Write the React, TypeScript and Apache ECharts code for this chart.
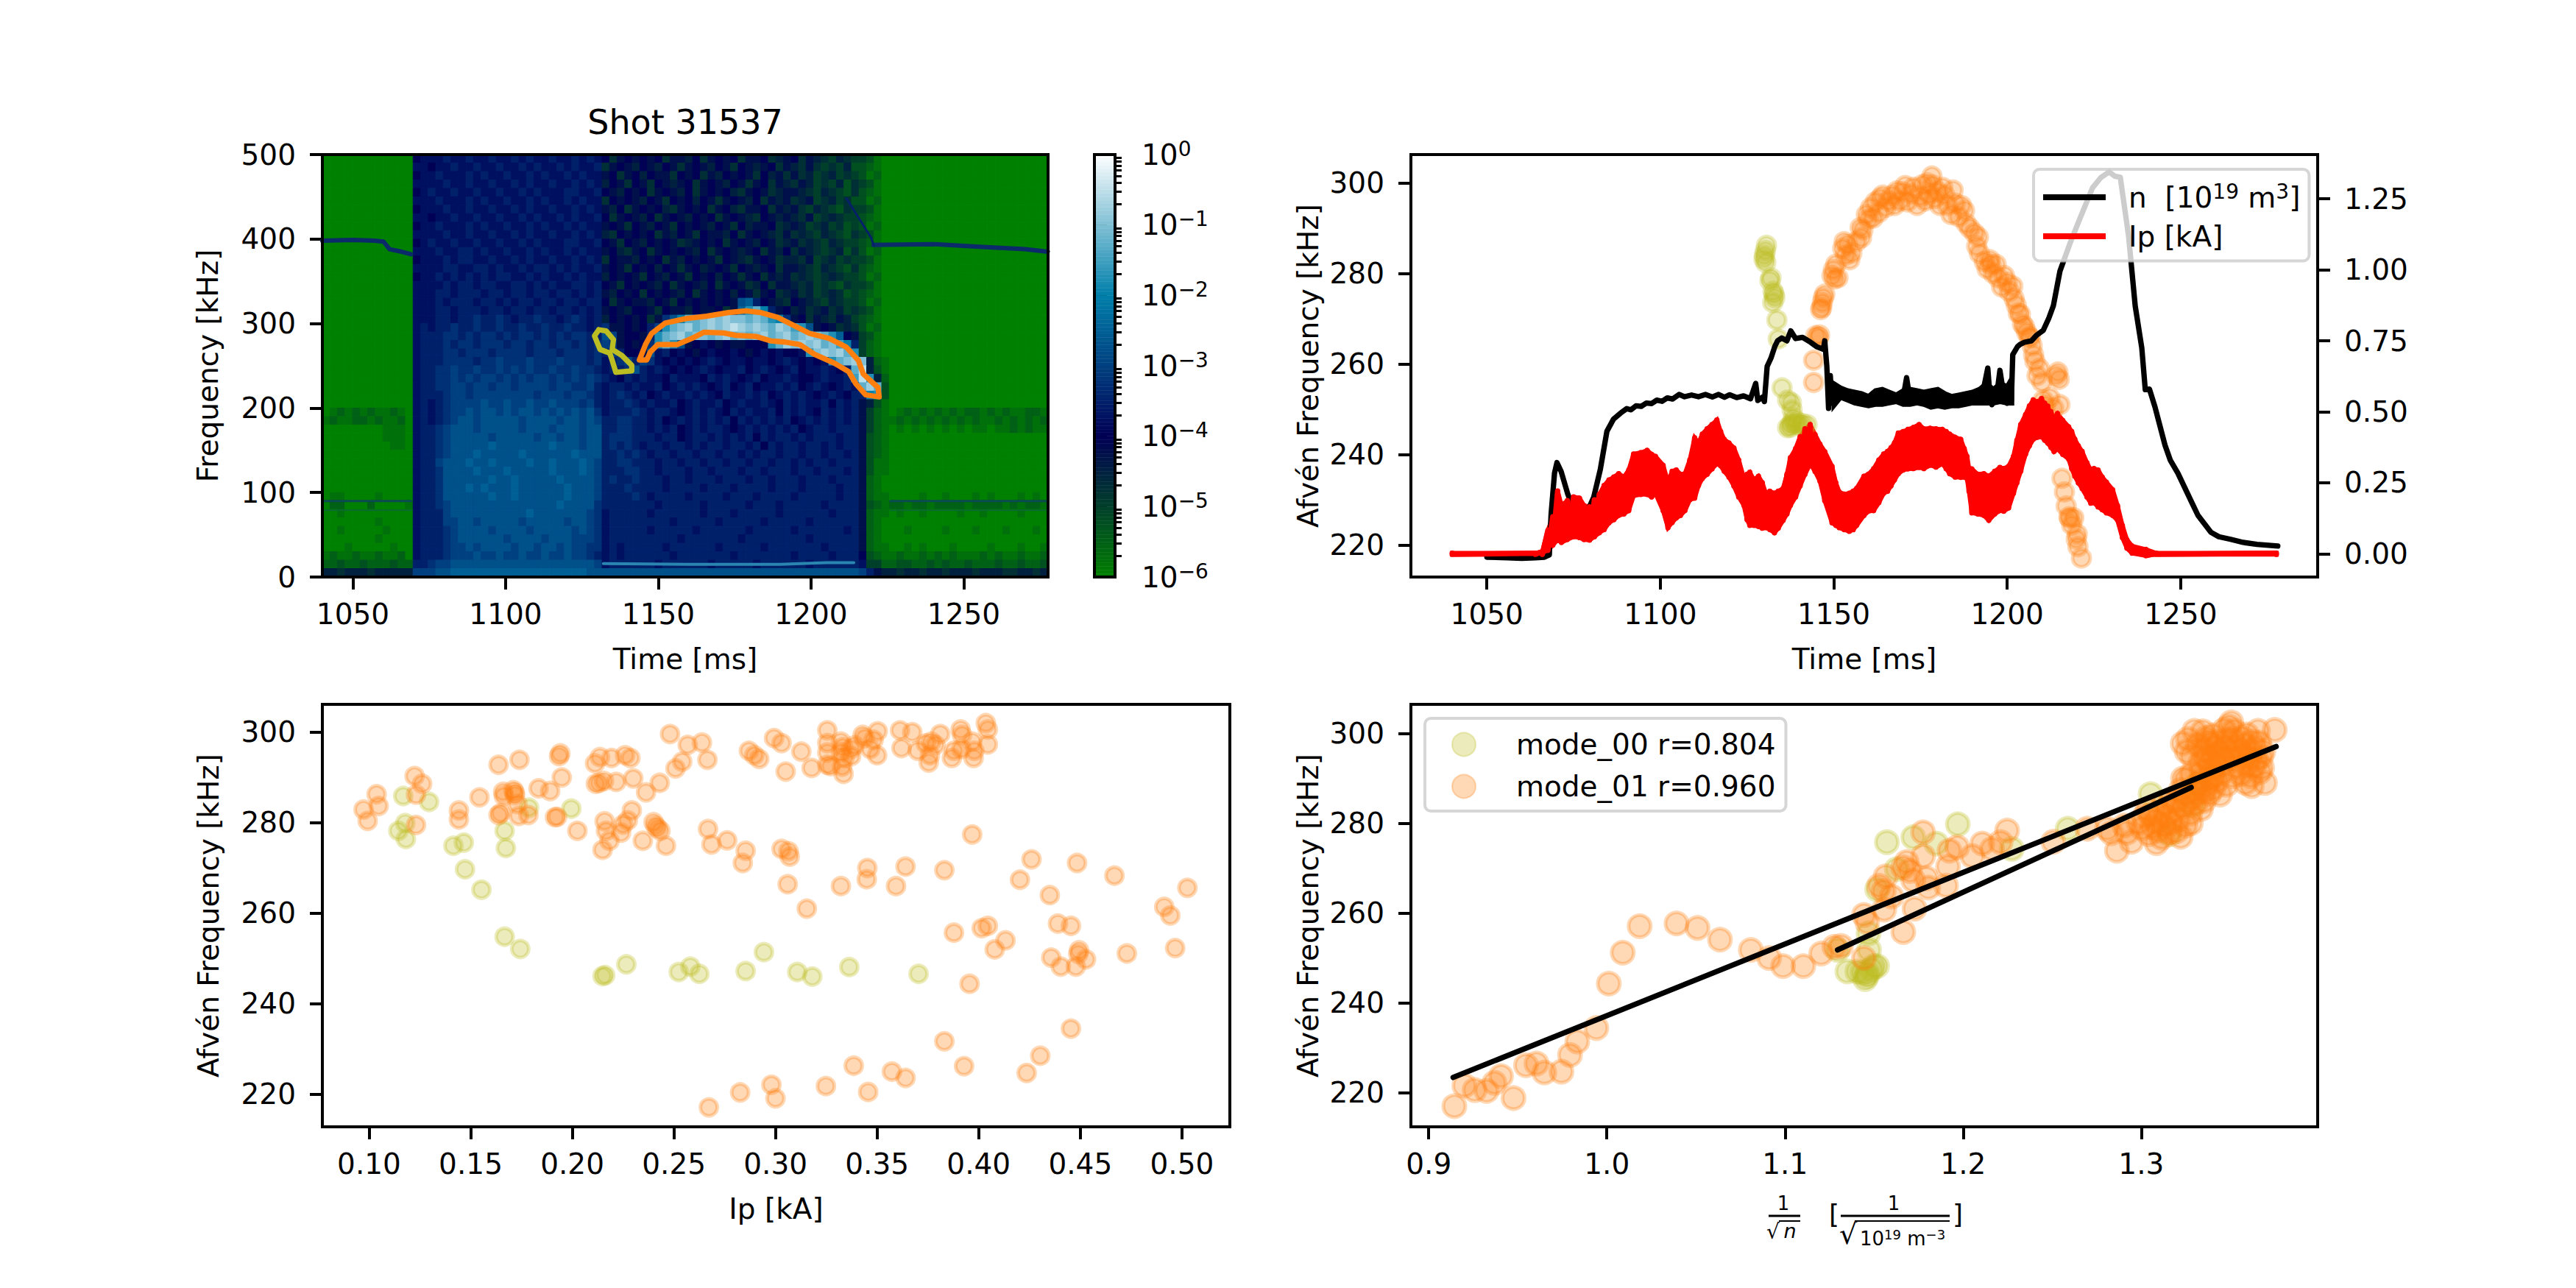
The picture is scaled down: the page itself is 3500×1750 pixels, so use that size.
import React, { useEffect, useRef } from 'react';
import * as echarts from 'echarts';

const specTimeTicks = [1050, 1100, 1150, 1200, 1250];
const specFreqTicks = [0, 100, 200, 300, 400, 500];
const afvenTicks = [220, 240, 260, 280, 300];
const densityTicks = [0, 0.25, 0.5, 0.75, 1, 1.25];
const ipTicks = [0.1, 0.15, 0.2, 0.25, 0.3, 0.35, 0.4, 0.45, 0.5];
const invDensityTicks = [0.9, 1.0, 1.1, 1.2, 1.3];
const colorbarExponents = [-6, -5, -4, -3, -2, -1, 0];
const colorbarMinor = [2, 3, 4, 5, 6, 7, 8, 9];

// spectrogram cells, top row first. a = 1e-6, each letter is +0.25 decade. spaces are only for counting
const specLetters = 'abcdefghijklmnopqrstuvwxy';
const specRows = [
  'aaaaa aaaaa aa ij jjkjj kjjkj jkjkj jkjjk jkj ifhih ihifh hgifh ihifh hifgh ifhgf egfe edba aaaaa aaaaa aaaaa aaaaa a',
  'aaaaa aaaaa aa jj ijjkj jkjjk jjkjk jjkjk jjk fhihg ihgih fhihg ihfih ghifh gfhfe fegd dcba aaaaa aaaaa aaaaa aaaaa a',
  'aaaaa aaaaa aa ij jkjjj kjkjj kjjkj kjjkj kjj hifhi gihhf ihifh gihih fighf hfgef gefe dbca aaaaa aaaaa aaaaa aaaaa a',
  'aaaaa aaaaa aa jj jjkjj kjjkj jkjkj jkjjk jkj gihfi hfihg hifhi hgihf hifhg fhgef egdf edba aaaaa aaaaa aaaaa aaaaa a',
  'aaaaa aaaaa aa ij kjjkj jkjjk jjkjk jjjkk jjk ihgih ifhih gifhi higfh ihfgh hgfeg fedf dcba aaaaa aaaaa aaaaa aaaaa a',
  'aaaaa aaaaa aa jj jkjjj kjkjj kjjkj kjjkj kjj fihih gihfi higih fhihg ifhgh fghef gefd dbca aaaaa aaaaa aaaaa aaaaa a',
  'aaaaa aaaaa aa ij jjkjj kjjkj jkjkj jkjjk jkj hgifh ihigf hihif higfh hifhg hfegf edfe edba aaaaa aaaaa aaaaa aaaaa a',
  'aaaaa aaaaa aa jj ijjkj jkjjk jjkjk jjkjk jjk ifhih gifhi hgihi fhihg fihgh gfhef gfee dcba aaaaa aaaaa aaaaa aaaaa a',
  'aaaaa aaaaa aa ij jkjjj kjkjj kjjkj kjjkj kjj hihfi hgihf ihihg ihfig hhifg hgefg efde dbca aaaaa aaaaa aaaaa aaaaa a',
  'aaaaa aaaaa aa jj jjkjj kjjkj jkjkj jkjjk jkj gfihi hifhg ihfih hgifh ihgfh fgfeg fedf edba aaaaa aaaaa aaaaa aaaaa a',
  'aaaaa aaaaa aa ij kjjkj jkjjk jjkjk jjjkk jjk ihfih gihih fghih ifhih gihfg hfgfe gfee dcba aaaaa aaaaa aaaaa aaaaa a',
  'aaaaa aaaaa aa jj jkjjk kjkjj kjjkj kjjkj kjj higfh ifhih ihgif hihgh ifhgi fhgfe fgdf dbca aaaaa aaaaa aaaaa aaaaa a',
  'aaaaa aaaaa aa ij jjkjk kjjkj jkjkj jkjjk jkj fihhg ihifh gihih fihgf hihfg gfhef gefe edba aaaaa aaaaa aaaaa aaaaa a',
  'aaaaa aaaaa aa jj jjkkj jkkjk jjkjk kjkjk jjk hihfi higih fhigh ihfih ghifh hgfeg fedf dcba aaaaa aaaaa aaaaa aaaaa a',
  'aaaaa aaaaa aa ij jkjkj kjkjk kjjkj kjjkj kjj gihih fihgi hfihi gihfh ifhgh fgfef gfee dbca aaaaa aaaaa aaaaa aaaaa a',
  'aaaaa aaaaa aa jj jjkjk kjkkj jkkjk jkjjk kjk ihfih ihgif hihgi fhihf gifhh gfgef edfe edba aaaaa aaaaa aaaaa aaaaa a',
  'aaaaa aaaaa aa jj jkkjk kkjkk jkkjk kjkkj kjk hgihi fihih gifhi higih fhifg hfgef gfde dcba aaaaa aaaaa aaaaa aaaaa a',
  'aaaaa aaaaa aa jj jkjkk kjkkj kjkkj kkjkk jkk ifhih hgihf ihihi hihno kihgf ihgfe gfee dbca aaaaa aaaaa aaaaa aaaaa a',
  'aaaaa aaaaa aa jj jkkjk kkjkk jkkjk kjkkj kjk hihgi ihfih hgihh ifhor tqkhi ghfgh fgef edba aaaaa aaaaa aaaaa aaaaa a',
  'aaaaa aaaaa aa jj jkkjk klkkl kjkkl kkjkl kjk gihih ifhln qttuv uvuut utrql hifhg fhge dcba aaaaa aaaaa aaaaa aaaaa a',
  'aaaaa aaaaa aa jk jkklk klkkl kklkk lkklk kjk lhhih ikmrt uvtuv uvwvu vutvu srnhi hfgf dbca aaaaa aaaaa aaaaa aaaaa a',
  'aaaaa aaaaa aa jk kkllk lkllk lkllk lklkl lkk nmhii hkrtu vtuut uvtut uvtuv tuvut roih edba aaaaa aaaaa aaaaa aaaaa a',
  'aaaaa aaaaa aa jk kklkl lklll kllkl lkllk lkl mlhih ilrtr nhiji hihhi iirtv uvuvt usqk ecba aaaaa aaaaa aaaaa aaaaa a',
  'aaaaa aaaaa aa jk kkllk lllkl lllkl llkll lkl kmkii hnjki jihij iijih ijiji ijruv uvtr ecba aaaaa aaaaa aaaaa aaaaa a',
  'aaaaa aaaaa aa jk kklll lkllm lllml llmll lkl jklmk mljij ijijk jijji jjijk jijij rtuv ugcb aaaaa aaaaa aaaaa aaaaa a',
  'aaaaa aaaaa aa jk kllml lmllm lmlml lmllm llk jkkln kjkji jijkj ijjki jkjij kijjk jikt wgdb aaaaa aaaaa aaaaa aaaaa a',
  'aaaaa aaaaa aa jk kllml mlmml mlmlm mlmlm lml kjikj kjjik jjjik jkjij kijjk jiijk jjks wrgc aaaaa aaaaa aaaaa aaaaa a',
  'aaaaa aaaaa aa jk kllmm lmmlm mlmmm mlmml lmk jkkjk jjkij kjkji jkijk ijjkj kijkj ijkj tvtd aaaaa aaaaa aaaaa aaaaa a',
  'aaaaa aaaaa aa jk kklmm lmmmm mmmml mmmlm mlk jklkj kijkj jkjkj ikjjk jkijk jkjij kjik kqrd aaaaa aaaaa aaaaa aaaaa a',
  'aaaaa aaaaa aa jk jklmm mmnmm nmmnm mnmmm lmk jkklk jkjjk ijkjj kijkj jkjik jkjjk ikjk hgdb aaaaa aaaaa aaaaa aaaaa a',
  'abcbc bcbbc ba jk jklmm nmnnm nmnnm nmnmn mnl jkkkl kjkkj ijkjk jikjk jjkik jkjik jkjk hecb abcbc bcbcb ccbcb cbbcc b',
  'bcbbc cbcbb ca jk jklmn nmnnn nnmnn nnmnn mnm kkllk kjkij kjkjk jkikj kjkjk ijkjk jkjk hecb bcbcb cbcbc bcbbc bcbcb c',
  'aaaaa aaabb ba jk klmnn nmnnn nnmnn nmnnn mnn kkllk kjkjk ijkjk kjijk jkjkj kijkk jkkk hecb ababa babab abbab bcbcb b',
  'aaaaa aaabb ba jk klmnn nnnmn nnnnm nnmnn mnn klllk kkjkk ijkkj kjkjk ikjkk jkjkk kjkk hdcb aaaaa aaaaa aaaaa aaaaa a',
  'aaaaa aaaab ba jk klmnn nnnon nnnnn nonnn mnn klklk jkkjk kjkjk kjkkj kikjk kjkkj kjkk hdcb aaaaa aaaaa aaaaa aaaaa a',
  'aaaaa aaaaa aa jk klmnn nonnn nnonn nnnno nnn kklkl kjkkj kkjkk jkkjk jkkjk kjkkj kkjk hdcb aaaaa aaaaa aaaaa aaaaa a',
  'aaaaa aaaaa aa jk kmnnn onnon nnnon nonnn onm kkllk kkjkk jkkjk kjkkj kkjkk jkjkk jkkk hdbb aaaaa aaaaa aaaaa aaaaa a',
  'aaaaa aaaaa aa jk klnnn nonnn onnnn nonnn onm kkkll kkjkk kjkkj kkkjk kjkkk jkkjk kkjk hdbb aaaaa aaaaa aaaaa aaaaa a',
  'aaaaa aaaaa aa jk klnnn nnnon nonnn nnonn nnm klkkl kkkjk kjkkk jkkkj kkjkk kjkkk jkkk hcba aaaaa aaaaa aaaaa aaaaa a',
  'aaaaa aaaaa aa jk klnnn ononn nonnn nnnon nnm kkklk kkkjk kkkjk kkjkk kkjkk kjkkk kjkk hcba aaaaa aaaaa aaaaa aaaaa a',
  'abbaa aabaa aa jk klnnn nnnon nonnn nnnon nnm kkkkl kjkkk kjkkk kjkkk jkkkk jkkkk kjkk hcbb aaaab aabaa ababa aabab a',
  'accaa acaaa ab jk klmnn nnnnn nnnnn nnonn nnl kkkkk kkjkk kkkjk kkkkj kkkjk kkkkj kkkk hdcb ccbcc bcccc bcccc bcbcc b',
  'aabaa aaaaa aa jk kkmnn nnnnn nnnon nnnnn nml jkkkk kjkkk kkkjk kkjkk kkkjk kkkkk jkkk hcbb abaab aaaab aabaa aabaa a',
  'aaaaa aabaa aa jk kkmmn nmnnn nnmnn nnnmn nml jkkkk kkkkj kkkkk jkkkk kjkkk kkjkk kkkk hcba aaaaa aaaaa aaaaa aaaaa a',
  'aabaa aaaba aa jk kklmn nnnmn nnnmn nnnnm nml jkkkk kjkkk kkjkk kkkkj kkkkk jkkkk kkjk hcba aabaa aabaa abaaa baaab a',
  'aaaaa aabaa aa jk kklmn nnnnn mnnnn mnnnm mml jkkkk kkkkk jkkkk kkkjk kkkkk kkjkk kkkk hcba aaaaa aaaaa aaaaa aaaaa a',
  'aaaba aaaab aa jk kklmm nmnnn nmnnm nnmnm mll jkjkk kkkjk kkkkk jkkkk kjkkk kkkkj kkkk hcbb aabab aaaba aaaba aabaa b',
  'bcbbc bbcbb ca jk kklmm mnmmn mmnmm nmmnm mlk jkjkk kkkkj kkkkk kkjkk kkkkk jkkkk jkkk idcb bcbbc bcbcb bbcbc bbcbb c',
  'ccdcc dcccd cc kk lmmnn nnnnn nnnnn nnnnn nnm jkkkk kkjkk kkkkj kkkkk jkkkk kkjkk kkkk jeec cddcc dcdcc dcccd ccdcc d',
  'ggfgg gfggg gg mm mnnoo ooooo ooooo ooooo onn nnnnn nnnnn nnnnn nnnnn nnnnn nnnnn nnnn mkhg gfggf ggfgg gfggg ffggf g',
];

// thin lines visible in the spectrogram [ms, kHz]
const lineAt400Before = [[1040, 398], [1050, 399], [1057, 398], [1060, 397], [1062, 388], [1066, 385], [1069, 382]];
const lineAt400After = [[1220.5, 393], [1240, 394], [1255, 391], [1270, 388], [1277.5, 385]];
const lineDiagonal = [[1211.6, 448], [1219.6, 402], [1220.5, 393]];
const lineAt90Before = [[1040, 90], [1069, 90]];
const lineAt90After = [[1226, 90], [1277.5, 90]];
const lineAt80Before = [[1040, 79], [1069, 79]];
const lineAt80After = [[1226, 79], [1277.5, 79]];
const lineAt15 = [[1132, 16], [1160, 15], [1190, 15], [1205, 17], [1214, 17]];

const mode00Contour = [
  [1130.5, 292.7], [1132.9, 291.2], [1135.3, 281], [1134.9, 269.4], [1138.1, 262.1], [1141.3, 250.5], [1141.3, 244.1],
  [1136.1, 242.3], [1134.9, 256.3], [1134.1, 265], [1130.9, 269.4], [1129.1, 285.4], [1130.5, 292.7],
];
const mode01Contour = [
  [1143.8, 256.9], [1145.8, 275.2], [1147.8, 288.3], [1152.2, 300.5], [1159, 305.8], [1165.8, 308.7], [1173, 313.1],
  [1178.6, 315.1], [1183.4, 313.1], [1189.1, 307.2], [1193.9, 298.5], [1199.5, 288.3], [1205.9, 282.5], [1211.5, 272.3],
  [1215.5, 256.3], [1217.1, 240.3], [1221.9, 224.3], [1222.3, 213.2], [1217.9, 215.6], [1214.7, 228.6], [1212.3, 243.2],
  [1207.5, 253.4], [1201.1, 263.6], [1196.3, 275.2], [1191.5, 278.1], [1186.7, 279.6], [1181.9, 284.8], [1175.4, 286],
  [1171.4, 288.9], [1165, 289.8], [1161, 282.5], [1156.2, 275.2], [1149.8, 275.2], [1147.4, 266.5], [1146.2, 256.9],
  [1143.8, 256.9],
];

// afven frequency vs time
const mode00ByTime = [
  [1130.6, 286.2], [1130.3, 285], [1130, 284], [1129.9, 283.2], [1130.4, 282.4], [1131.9, 279], [1131.6, 278.4], [1132.5, 276],
  [1133, 274.6], [1132.8, 275.4], [1132.4, 273.6], [1133.6, 269.7], [1134, 265.5], [1135.1, 254.7], [1136.7, 252], [1137.8, 251.4],
  [1138, 249.8], [1137.6, 246.6], [1139.1, 246.6], [1136.7, 245.9], [1138.4, 248], [1139.4, 247.2], [1140.4, 246.4], [1141, 246.8],
  [1142.3, 246.6], [1138.2, 247], [1137.4, 246],
];
const mode01ByTime = [
  [1144.2, 255.9], [1144.2, 260.8], [1144.8, 266.2], [1145.6, 265.8], [1145.9, 266.4], [1146.2, 272], [1146.5, 272.4], [1146.7, 273.5],
  [1147, 274.6], [1147.4, 275.4], [1149.5, 279.5], [1149.9, 280.8], [1150.6, 282], [1150.3, 278.8], [1151.2, 279], [1152.6, 285.5],
  [1153, 287], [1153.4, 284], [1154, 286.4], [1154.6, 283], [1155.2, 284.5], [1156.6, 287], [1157.6, 290.1], [1158, 287.9],
  [1158.4, 289.6], [1159.4, 293], [1160, 292], [1160.6, 294.5], [1161.3, 292.2], [1162, 295.8], [1163, 293.4], [1163.4, 296.6],
  [1164.1, 297.3], [1165, 294.6], [1165.8, 296], [1166.8, 297.2], [1167.5, 295], [1168.2, 298.2], [1169, 296], [1169.8, 298],
  [1170.6, 299.4], [1171.2, 295.8], [1172.4, 297.6], [1173, 299], [1174, 295], [1175, 297], [1175.6, 299.6], [1176.4, 296],
  [1177, 300], [1177.6, 297.5], [1178.3, 301.5], [1178.6, 299.5], [1179, 296.5], [1180, 298], [1180.6, 295], [1181.4, 299],
  [1182, 297.3], [1182.8, 295], [1183.8, 293], [1184.4, 298.4], [1185, 295.5], [1186, 292.5], [1186.8, 295], [1187.7, 293.9],
  [1188.2, 291], [1189.2, 290], [1190.6, 288.9], [1191.2, 286], [1192, 284.4], [1191.7, 288], [1193.4, 282.6], [1194.2, 281],
  [1195, 283], [1195.3, 282], [1196, 280], [1196.8, 282], [1197.4, 279], [1198.4, 277], [1199.2, 279.5], [1200, 278],
  [1200.6, 276], [1201.6, 277.2], [1202, 274.4], [1202.6, 273], [1203.2, 271.2], [1203.8, 271], [1204.4, 268.8], [1205, 268.2],
  [1205.6, 267], [1206.3, 266], [1206.7, 265.8], [1207.2, 264], [1207.6, 262], [1208, 260.6], [1208.6, 257.4], [1209.3, 259],
  [1210, 256], [1210.4, 252], [1211, 250.8], [1212.3, 252.5], [1213.4, 250.2], [1214.2, 257.4], [1214.6, 258.2], [1215, 256.6],
  [1215.2, 251], [1215.8, 234.7], [1216.5, 231.7], [1217, 228.6], [1217.8, 226.2], [1218, 225.9], [1218.6, 224.4], [1219.2, 226],
  [1219.9, 221.3], [1220.2, 222.4], [1220.4, 219.6], [1221.4, 217.1],
];

// density and plasma current traces, right axis
const nTimes = [
  1050, 1056, 1060, 1064, 1066.6, 1068, 1068.5, 1069.5, 1070.2, 1071.4, 1073.3, 1074.8, 1077, 1079, 1080.8, 1082.7, 1084.6, 1086.5,
  1088.5, 1090.3, 1091.5, 1093, 1094.5, 1096, 1097.5, 1099, 1100.5, 1102, 1103.5, 1105.4, 1107, 1109, 1111, 1113, 1115, 1116.8,
  1118.5, 1120, 1122, 1124, 1126, 1127.5, 1128.1, 1129.5, 1130, 1130.8, 1131.9, 1133, 1133.8, 1135, 1136.5, 1137.6, 1139, 1141,
  1143.3, 1145, 1147, 1147.4, 1148, 1148.5, 1149, 1149.5, 1150, 1151.5, 1153, 1154.6, 1156, 1157.5, 1159.4, 1161, 1162.5, 1164.1, 1165.5,
  1167, 1168.5, 1170, 1171, 1172, 1174.5, 1176, 1177.5, 1179, 1180.5, 1182, 1183.5, 1185, 1186.5, 1188, 1189.5, 1191, 1192.5,
  1194.4, 1195, 1195.6, 1197, 1197.9, 1199, 1200, 1201.2, 1201.6, 1203, 1203.8, 1205, 1207, 1208.5, 1210.4, 1212, 1213.3, 1215.2,
  1218, 1220.9, 1224.6, 1227, 1229.4, 1231, 1232.6, 1235, 1236.9, 1238.8, 1239.8, 1241, 1242.6, 1245.5, 1247, 1249.2, 1253, 1255,
  1258.7, 1261, 1264.4, 1268, 1272, 1278,
];
const nValues = [
  -0.012, -0.014, -0.016, -0.014, -0.012, -0.004, 0.137, 0.284, 0.321, 0.29, 0.211, 0.162, 0.15, 0.15, 0.199, 0.297, 0.431, 0.474,
  0.495, 0.511, 0.507, 0.521, 0.519, 0.531, 0.529, 0.541, 0.537, 0.549, 0.545, 0.561, 0.553, 0.559, 0.553, 0.561, 0.552, 0.561,
  0.551, 0.56, 0.55, 0.556, 0.546, 0.6, 0.54, 0.552, 0.536, 0.66, 0.689, 0.73, 0.75, 0.76, 0.75, 0.785, 0.758, 0.762,
  0.745, 0.73, 0.72, 0.75, 0.66, 0.512, 0.627, 0.53, 0.58, 0.57, 0.552, 0.56, 0.54, 0.552, 0.535, 0.55, 0.54, 0.552, 0.54,
  0.55, 0.542, 0.55, 0.62, 0.54, 0.54, 0.55, 0.54, 0.55, 0.54, 0.548, 0.54, 0.545, 0.535, 0.545, 0.54, 0.548, 0.54,
  0.654, 0.56, 0.525, 0.56, 0.646, 0.56, 0.53, 0.54, 0.701, 0.73, 0.738, 0.745, 0.75, 0.77, 0.787, 0.83, 0.873, 0.995,
  1.09, 1.179, 1.289, 1.325, 1.345, 1.33, 1.326, 1.118, 0.873, 0.725, 0.578, 0.58, 0.517, 0.382, 0.33, 0.284, 0.186, 0.135,
  0.076, 0.06, 0.051, 0.04, 0.033, 0.027,
];
// noisy stretch of the density trace, drawn as an envelope
const nBandTimes = [
  1150, 1152, 1154, 1156, 1158, 1160, 1162, 1164, 1166, 1168, 1170, 1172, 1174, 1176, 1178, 1180, 1182, 1184, 1186, 1188, 1190, 1192,
  1194, 1196, 1198, 1200, 1201.4,
];
const nBandUpper = [
  0.6, 0.585, 0.575, 0.57, 0.565, 0.555, 0.575, 0.58, 0.57, 0.56, 0.575, 0.58, 0.575, 0.57, 0.575, 0.58, 0.565, 0.555, 0.56, 0.565, 0.57, 0.58,
  0.6, 0.58, 0.6, 0.59, 0.62,
];
const nBandLower = [
  0.52, 0.55, 0.54, 0.53, 0.525, 0.52, 0.525, 0.525, 0.53, 0.535, 0.525, 0.525, 0.53, 0.525, 0.515, 0.52, 0.515, 0.52, 0.52, 0.525, 0.53, 0.53,
  0.53, 0.53, 0.535, 0.53, 0.53,
];
const ipTimes = [
  1040, 1064, 1066, 1067.6, 1069, 1070.4, 1071.5, 1073.2, 1075, 1076.7, 1078, 1079.6, 1081, 1082.4, 1083.8, 1085.2, 1086.6, 1088, 1089.5, 1090.9,
  1092.3, 1094.4, 1096.2, 1097.5, 1098.6, 1100.8, 1102.2, 1103.4, 1104.6, 1105.8, 1107.1, 1108.5, 1109.9, 1111, 1112.1, 1113.5, 1114.9, 1116.3,
  1117.4, 1118.4, 1119.8, 1121.2, 1122.6, 1124.1, 1125, 1125.8, 1127, 1128.3, 1129.4, 1130.4, 1131.6, 1132.9, 1134, 1135.4, 1136.5, 1137.5,
  1139, 1140.3, 1141.7, 1143.2, 1144.6, 1146, 1147.4, 1149.5, 1150.6, 1151.6, 1153, 1154.5, 1155.6, 1156.6, 1158.7, 1160, 1161.5, 1163, 1164.4,
  1165.5, 1166.5, 1167.5, 1168.6, 1170, 1171.4, 1173, 1174.6, 1176, 1177.8, 1179.5, 1181.3, 1182.4, 1183.4, 1185, 1186.6, 1187.6, 1188.4, 1189,
  1189.8, 1191.5, 1193.3, 1194.7, 1196.4, 1197.9, 1199, 1200.4, 1201.8, 1202.8, 1203.9, 1205.3, 1206.4, 1207.5, 1208.7, 1209.9, 1210.8, 1211.7,
  1212.6, 1213.5, 1214.5, 1216, 1217.7, 1218.6, 1219.5, 1220.5, 1221.6, 1223, 1224.1, 1225, 1226.2, 1227.4, 1228.6, 1230.4, 1231.8, 1233.2,
  1234.5, 1236, 1240, 1243, 1277.6,
];
const ipUpper = [
  0.002, 0.002, 0.008, 0.083, 0.13, 0.221, 0.17, 0.187, 0.2, 0.196, 0.17, 0.165, 0.19, 0.209, 0.24, 0.26, 0.27, 0.282, 0.27, 0.295,
  0.351, 0.356, 0.364, 0.35, 0.343, 0.312, 0.252, 0.29, 0.295, 0.28, 0.282, 0.33, 0.408, 0.39, 0.421, 0.44, 0.455, 0.471,
  0.43, 0.403, 0.39, 0.373, 0.33, 0.265, 0.28, 0.287, 0.26, 0.273, 0.25, 0.213, 0.22, 0.213, 0.22, 0.23, 0.28, 0.338,
  0.37, 0.412, 0.44, 0.455, 0.42, 0.386, 0.36, 0.308, 0.25, 0.217, 0.21, 0.213, 0.22, 0.23, 0.273, 0.28, 0.299, 0.33, 0.351,
  0.36, 0.373, 0.39, 0.425, 0.43, 0.438, 0.445, 0.455, 0.44, 0.442, 0.44, 0.438, 0.43, 0.421, 0.41, 0.403, 0.37, 0.343, 0.3,
  0.299, 0.28, 0.282, 0.273, 0.29, 0.304, 0.3, 0.308, 0.343, 0.4, 0.455, 0.49, 0.52, 0.542, 0.535, 0.546, 0.53, 0.52,
  0.5, 0.481, 0.494, 0.47, 0.447, 0.43, 0.403, 0.38, 0.36, 0.32, 0.295, 0.3, 0.295, 0.27, 0.252, 0.226, 0.17, 0.1,
  0.05, 0.027, 0.015, 0.002, 0.002,
];
const ipLower = [
  -0.002, -0.002, -0.002, 0.012, 0.03, 0.05, 0.04, 0.05, 0.06, 0.057, 0.05, 0.048, 0.06, 0.074, 0.085, 0.109, 0.12, 0.135, 0.14, 0.152,
  0.204, 0.209, 0.209, 0.2, 0.213, 0.152, 0.092, 0.11, 0.126, 0.135, 0.152, 0.19, 0.196, 0.24, 0.265, 0.28, 0.299, 0.317,
  0.31, 0.291, 0.27, 0.239, 0.2, 0.17, 0.12, 0.1, 0.1, 0.096, 0.09, 0.092, 0.085, 0.074, 0.09, 0.118, 0.14, 0.17,
  0.2, 0.239, 0.28, 0.317, 0.29, 0.256, 0.187, 0.109, 0.1, 0.092, 0.085, 0.079, 0.085, 0.1, 0.135, 0.15, 0.152, 0.18, 0.213,
  0.22, 0.239, 0.26, 0.282, 0.295, 0.299, 0.3, 0.304, 0.3, 0.312, 0.305, 0.317, 0.3, 0.282, 0.27, 0.269, 0.27, 0.265, 0.22,
  0.144, 0.14, 0.135, 0.118, 0.14, 0.152, 0.15, 0.161, 0.213, 0.25, 0.291, 0.351, 0.38, 0.403, 0.41, 0.412, 0.4, 0.39,
  0.375, 0.36, 0.369, 0.35, 0.334, 0.3, 0.273, 0.25, 0.23, 0.2, 0.178, 0.18, 0.165, 0.155, 0.144, 0.135, 0.118, 0.057,
  0.02, 0.002, -0.007, -0.002, -0.002,
];

// afven frequency vs plasma current
const mode00ByIp = [
  [0.1168, 285.9], [0.1295, 284.6], [0.1178, 279.9], [0.1144, 278.2], [0.1181, 276.4], [0.1415, 274.9], [0.1466, 275.6], [0.1472, 269.7],
  [0.1553, 265.2], [0.1667, 278.2], [0.1673, 274.4], [0.1787, 283.3], [0.1995, 283.1], [0.1667, 254.8], [0.1744, 252.1], [0.2149, 246.1],
  [0.2162, 246.3], [0.2266, 248.7], [0.2524, 247], [0.2581, 248.2], [0.2625, 246.6], [0.2853, 247.2], [0.2943, 251.4], [0.3107, 247],
  [0.3181, 246], [0.3363, 248.1], [0.3704, 246.6],
];
const mode01ByIp = [
  [0.0973, 282.9], [0.0993, 280.4], [0.1037, 286.3], [0.1047, 283.7], [0.1224, 290.3], [0.1261, 288.6], [0.1231, 286.2], [0.1231, 279.5],
  [0.1442, 282.7], [0.1442, 280.7], [0.1543, 285.6], [0.1637, 292.8], [0.174, 293.9], [0.166, 286.8], [0.1663, 285.9], [0.171, 287.2],
  [0.1717, 286.6], [0.1717, 286.1], [0.1637, 281.7], [0.1647, 282.1], [0.173, 284.1], [0.1737, 281.5], [0.1784, 281.7], [0.1834, 287.6],
  [0.1891, 287], [0.1925, 281.3], [0.1915, 281.2], [0.1948, 290], [0.1935, 294.7], [0.1941, 295.3], [0.2025, 278.2], [0.2112, 293.1],
  [0.2136, 294.5], [0.2116, 288.6], [0.2132, 288.8], [0.2156, 289.2], [0.2193, 294.3], [0.2216, 289], [0.23, 289.8], [0.226, 294.9],
  [0.2286, 294.3], [0.2159, 280.3], [0.2166, 278.2], [0.2183, 276], [0.2149, 274], [0.224, 277.8], [0.225, 279.6], [0.2273, 280.5],
  [0.2293, 282.7], [0.2347, 276], [0.2363, 286.7], [0.243, 288.8], [0.24, 280.1], [0.241, 279.3], [0.242, 278.8], [0.2434, 278.2],
  [0.2461, 274.9], [0.2481, 299.6], [0.2508, 292], [0.2541, 293.5], [0.2568, 297.2], [0.2638, 297.7], [0.2665, 293.9], [0.2668, 278.6],
  [0.2685, 275.2], [0.2762, 276.1], [0.2853, 273.8], [0.2839, 271.1], [0.2869, 295.9], [0.2896, 294.9], [0.292, 294.1], [0.2993, 298.7],
  [0.303, 297.6], [0.305, 291.3], [0.303, 274.2], [0.3064, 273.7], [0.307, 272.5], [0.306, 266.4], [0.3127, 295.7], [0.3154, 261],
  [0.3178, 292.1], [0.3255, 300.4], [0.3255, 297.6], [0.3255, 295.5], [0.3255, 292.8], [0.3271, 292.5], [0.3322, 297.9], [0.3322, 295.5],
  [0.3332, 296.7], [0.3338, 294.3], [0.3328, 292.4], [0.3335, 290.8], [0.3372, 296.3], [0.3389, 297.1], [0.3372, 294.7], [0.3429, 299.4],
  [0.3439, 298.7], [0.3466, 296.3], [0.3483, 298.3], [0.3503, 300.2], [0.35, 294.9], [0.3322, 266], [0.3449, 267.5], [0.3452, 270],
  [0.3593, 266], [0.364, 270.3], [0.3613, 300.4], [0.362, 296.5], [0.3673, 300], [0.37, 295.9], [0.374, 297.5], [0.3754, 293.3],
  [0.376, 294.9], [0.3767, 297.9], [0.3787, 297.2], [0.3811, 299.6], [0.3831, 269.5], [0.3868, 294.3], [0.3878, 295.9], [0.3878, 255.7],
  [0.3911, 300.6], [0.3918, 299.4], [0.3915, 296.3], [0.3968, 277.4], [0.3968, 297.9], [0.3975, 294.3], [0.3978, 295.9], [0.4035, 302],
  [0.4045, 300.6], [0.4045, 297.3], [0.4015, 256.7], [0.4045, 257.2], [0.4079, 252], [0.4132, 254], [0.3955, 244.4], [0.3831, 231.7],
  [0.3928, 226.2], [0.4203, 267.4], [0.426, 271.9], [0.435, 264], [0.439, 257.7], [0.4454, 257.2], [0.4484, 271.1], [0.4668, 268.3],
  [0.4357, 250.2], [0.4404, 248.2], [0.4478, 248.2], [0.4494, 251.8], [0.449, 251], [0.4528, 249.8], [0.4729, 251.1], [0.4913, 261.4],
  [0.4943, 259.5], [0.4967, 252.3], [0.5027, 265.6], [0.4454, 234.5], [0.4303, 228.5], [0.4236, 224.7], [0.3385, 226.3], [0.3573, 225],
  [0.364, 223.6], [0.3248, 221.8], [0.298, 222.1], [0.3, 219.1], [0.2826, 220.4], [0.2672, 217.1], [0.3456, 220.5],
];

// afven frequency vs 1/sqrt(n)
const mode00ByInvDensity = [
  [1.197, 279.8], [1.1572, 275.8], [1.172, 276.9], [1.1849, 275.5], [1.2273, 274.3], [1.2587, 278.8], [1.3052, 286.5], [1.3159, 277.6],
  [1.1627, 269.8], [1.1517, 265.3], [1.1469, 255.5], [1.1472, 251.8], [1.1295, 251.8], [1.135, 247], [1.1406, 247], [1.1461, 246.6],
  [1.15, 248.2], [1.1517, 248.2], [1.145, 245.3], [1.146, 246], [1.329, 284.1], [1.3308, 288.5], [1.1485, 247.5], [1.1435, 246.8],
];
const mode01ByInvDensity = [
  [0.9144, 217], [0.92, 221.6], [0.9258, 220.6], [0.9325, 220.4], [0.9369, 222.2], [0.9406, 223.7], [0.9476, 218.8], [0.9546, 226.1],
  [0.9605, 226.5], [0.9649, 224.5], [0.9745, 224.7], [0.9793, 228.4], [0.9834, 231.4], [0.9941, 234.4], [1.0011, 244.3], [1.0089, 251.2],
  [1.0184, 257.1], [1.0391, 257.7], [1.0509, 256.7], [1.0635, 254.1], [1.0808, 251.8], [1.0911, 250], [1.0989, 248.2], [1.1103, 248.2],
  [1.1203, 251], [1.1277, 252.5], [1.1314, 252.7], [1.1443, 250], [1.1664, 255.8], [1.1557, 260.8], [1.1443, 259.6], [1.1461, 258],
  [1.1727, 261], [1.1565, 268.2], [1.1528, 266.1], [1.1554, 264.9], [1.1598, 263.7], [1.1664, 270.2], [1.1683, 271.4], [1.1701, 269.4],
  [1.172, 267.3], [1.1775, 278], [1.1775, 272.7], [1.1793, 267.8], [1.1804, 265.7], [1.1904, 266.1], [1.1915, 270.4], [1.1923, 273.9],
  [1.1967, 274.7], [1.2052, 272.7], [1.2107, 275.5], [1.2162, 274.3], [1.221, 275.8], [1.2247, 278.4], [1.2506, 275.9], [1.2697, 278.8],
  [1.2808, 278.8], [1.2863, 273.9], [1.2945, 275.9], [1.2919, 277.9], [1.2832, 277.8], [1.2905, 279.5], [1.2985, 280.2], [1.3005, 278.9],
  [1.3042, 277.6], [1.3085, 275.6], [1.3115, 276.8], [1.3062, 279.2], [1.3018, 281.5], [1.3035, 283], [1.3081, 280.5], [1.3102, 282.4],
  [1.3125, 279.6], [1.3141, 281.6], [1.3165, 280], [1.3182, 283], [1.3205, 280.8], [1.3195, 278.2], [1.3221, 277], [1.3248, 279.5],
  [1.3275, 282.2], [1.3262, 285], [1.3235, 283.7], [1.3305, 284.5], [1.3315, 286.8], [1.3335, 283.2], [1.3355, 287.2], [1.3295, 287.5],
  [1.3252, 289.8], [1.3234, 290], [1.3282, 291], [1.3345, 290], [1.3395, 292], [1.3425, 289.5], [1.3381, 286.6], [1.3478, 288.6],
  [1.3442, 286.4], [1.3232, 297.8], [1.3262, 298.8], [1.3298, 300.6], [1.3255, 296], [1.3285, 295], [1.3318, 297.5], [1.3345, 300.5],
  [1.3365, 299], [1.3332, 293.5], [1.3358, 296.4], [1.3392, 297.8], [1.3412, 295], [1.3382, 293.2], [1.3435, 298.2], [1.3465, 300.8],
  [1.3492, 301.6], [1.3505, 302.5], [1.3522, 300.6], [1.3472, 296.8], [1.3445, 293], [1.3495, 294.5], [1.3535, 297], [1.3565, 299],
  [1.3572, 295], [1.3545, 292.6], [1.3595, 293], [1.3612, 296], [1.3625, 298.2], [1.3655, 300.6], [1.3685, 296], [1.3645, 294.2],
  [1.3615, 290.5], [1.3665, 291.4], [1.3694, 289], [1.3585, 289], [1.3515, 290.5], [1.3672, 294.8], [1.362, 288.3], [1.3749, 300.8],
  [1.3348, 295.2], [1.3372, 298.2], [1.3402, 299.6], [1.3418, 297], [1.3438, 295.6], [1.3458, 291.4], [1.3482, 298.6], [1.3502, 296],
  [1.3512, 298.8], [1.3528, 294], [1.3552, 296.2], [1.3558, 291], [1.3578, 297.6], [1.3592, 299.8], [1.3605, 294.4], [1.3632, 292.8],
  [1.3642, 296.8], [1.3662, 298], [1.3678, 292.4], [1.3338, 291.6], [1.3368, 294.6], [1.3405, 290.4], [1.3462, 294.4], [1.3415, 292.8],
  [1.3288, 285.6], [1.3325, 288.8], [1.3368, 288.6], [1.3405, 287.8], [1.3278, 280], [1.3128, 284.6], [1.3168, 285.2], [1.3222, 287.4],
  [1.3095, 278.4], [1.3158, 278], [1.3198, 284.8], [1.3245, 286.6], [1.3055, 281.8], [1.3148, 283.4], [1.3352, 285], [1.3385, 290],
];
const fitAll = [[0.9137, 223.4], [1.3757, 297.1]];
const fitMode00 = [[1.1295, 251.8], [1.328, 288]];

const FONT = 'DejaVu Sans';
const OLIVE = '#bcbd22';
const ORANGE = '#ff7f0e';
const OLIVE_FILL = 'rgba(188,189,34,0.3)';
const ORANGE_FILL = 'rgba(255,127,14,0.3)';

// matplotlib "ocean" colormap on log10(power) from -6 to 0
const oceanColor = (level: number) => {
  const x = (level + 6) / 6;
  const r = Math.max(0, 3 * x - 2);
  const g = Math.abs(1.5 * x - 0.5);
  return `rgb(${Math.round(r * 255)},${Math.round(g * 255)},${Math.round(x * 255)})`;
};

const DT = 237.6 / 96;
const DF = 10;
const specCells: number[][] = [];
specRows.forEach((row, r) => {
  row
    .replace(/ /g, '')
    .split('')
    .forEach((ch, c) => {
      specCells.push([1040 + c * DT, 490 - r * DF, -6 + specLetters.indexOf(ch) * 0.25]);
    });
});

const colorbarCells: number[][] = [];
for (let k = 0; k < 120; k++) colorbarCells.push([-6 + k * 0.05]);

const axisBase = (ticks: number[], digits: number, margin: number, extra: any) => ({
  type: 'value',
  scale: true,
  splitLine: { show: false },
  axisLine: { show: true, onZero: false, lineStyle: { color: '#000', width: 4 } },
  axisTick: { show: true, length: 17, lineStyle: { color: '#000', width: 4 }, customValues: ticks },
  axisLabel: {
    color: '#000',
    fontFamily: FONT,
    fontSize: 39,
    margin,
    customValues: ticks,
    formatter: (v: number) => Number(v).toFixed(digits),
  },
  nameLocation: 'middle',
  nameTextStyle: { color: '#000', fontFamily: FONT, fontSize: 39 },
  ...extra,
});

const dots = (name: string, data: number[][], fill: string, size: number, x: number, y: number) => ({
  name,
  type: 'scatter',
  xAxisIndex: x,
  yAxisIndex: y,
  data,
  symbolSize: size,
  itemStyle: { color: fill, borderColor: fill, borderWidth: 5, opacity: 1 },
  silent: true,
});

const plainLine = (data: number[][], color: string, width: number, x: number, y: number, name?: string) => ({
  name,
  type: 'line',
  xAxisIndex: x,
  yAxisIndex: y,
  data,
  showSymbol: false,
  symbol: 'none',
  lineStyle: { color, width, join: 'round', cap: 'round' },
  itemStyle: { color },
  silent: true,
});

// filled envelope between two typed traces on the right axis of the time plot
const envelope = (times: number[], upper: number[], lower: number[], color: string, stroke: number) => ({
  type: 'custom',
  xAxisIndex: 2,
  yAxisIndex: 4,
  data: [[times[0], 0]],
  silent: true,
  renderItem: (_: any, api: any) => {
    const top = times.map((t, i) => api.coord([t, upper[i]]));
    const bottom = times.map((t, i) => api.coord([t, lower[i]])).reverse();
    return {
      type: 'polygon',
      shape: { points: top.concat(bottom) },
      style: { fill: color, stroke: color, lineWidth: stroke },
    };
  },
});

const mathText = (text: string, x: number, y: number, font: string) => ({
  type: 'text',
  x,
  y,
  style: { text, font, fill: '#000', textAlign: 'center', textVerticalAlign: 'middle' },
});
const mathRule = (x1: number, x2: number, y: number, width: number) => ({
  type: 'line',
  shape: { x1, y1: y, x2, y2: y },
  style: { stroke: '#000', lineWidth: width },
});

const App: React.FC = () => {
  const chartRef = useRef<HTMLDivElement>(null);

  useEffect(() => {
    if (!chartRef.current) return;
    const chart = echarts.init(chartRef.current, undefined, { renderer: 'svg' });

    const minorValues: number[] = [];
    colorbarExponents.slice(0, -1).forEach((e) => {
      colorbarMinor.forEach((m) => minorValues.push(e + Math.log10(m)));
    });

    const nLine = nTimes.map((t, i) => [t, nValues[i]]);
    const ipZigzag: number[][] = [];
    ipTimes.forEach((t, i) => {
      ipZigzag.push([t, ipUpper[i]]);
      ipZigzag.push([t, ipLower[i]]);
    });

    const option: any = {
      animation: false,
      textStyle: { fontFamily: FONT },
      title: {
        text: 'Shot 31537',
        left: 926,
        top: 138,
        textAlign: 'center',
        textStyle: { color: '#000', fontFamily: FONT, fontSize: 46, fontWeight: 'normal' },
      },
      grid: [
        { left: 438, top: 210, width: 986, height: 574 },
        { left: 1487, top: 210, width: 28, height: 574 },
        { left: 1917, top: 210, width: 1232, height: 574, show: true, borderColor: '#000', borderWidth: 4 },
        { left: 438, top: 957, width: 1233, height: 574, show: true, borderColor: '#000', borderWidth: 4 },
        { left: 1917, top: 957, width: 1232, height: 574, show: true, borderColor: '#000', borderWidth: 4 },
      ],
      xAxis: [
        axisBase(specTimeTicks, 0, 31, { gridIndex: 0, min: 1040, max: 1277.6, name: 'Time [ms]', nameGap: 92 }),
        { type: 'value', gridIndex: 1, min: 0, max: 1, show: false },
        axisBase(specTimeTicks, 0, 31, { gridIndex: 2, min: 1028.1, max: 1289.5, name: 'Time [ms]', nameGap: 92 }),
        axisBase(ipTicks, 2, 31, { gridIndex: 3, min: 0.077, max: 0.5236, name: 'Ip [kA]', nameGap: 92 }),
        axisBase(invDensityTicks, 1, 31, { gridIndex: 4, min: 0.89, max: 1.399 }),
      ],
      yAxis: [
        axisBase(specFreqTicks, 0, 36, { gridIndex: 0, min: 0, max: 500, name: 'Frequency [kHz]', nameGap: 136 }),
        {
          type: 'value',
          gridIndex: 1,
          position: 'right',
          min: -6,
          max: 0,
          splitLine: { show: false },
          axisLine: { show: true, lineStyle: { color: '#000', width: 4 } },
          axisTick: { show: true, length: 17, lineStyle: { color: '#000', width: 4 }, customValues: colorbarExponents },
          axisLabel: {
            color: '#000',
            fontFamily: FONT,
            fontSize: 39,
            margin: 36,
            customValues: colorbarExponents,
            formatter: (v: number) => `10{sup|${Number(v) < 0 ? '\u2212' : ''}${Math.abs(Number(v))}}`,
            rich: { sup: { fontFamily: FONT, fontSize: 28, padding: [0, 0, 16, 0], color: '#000' } },
          },
        },
        {
          type: 'value',
          gridIndex: 1,
          position: 'right',
          min: -6,
          max: 0,
          splitLine: { show: false },
          axisLine: { show: false },
          axisLabel: { show: false },
          axisTick: { show: true, length: 9, lineStyle: { color: '#000', width: 3 }, customValues: minorValues },
        },
        axisBase(afvenTicks, 0, 36, { gridIndex: 2, min: 212.9, max: 306.25, name: 'Afv\u00e9n Frequency [kHz]', nameGap: 120 }),
        axisBase(densityTicks, 2, 36, { gridIndex: 2, min: -0.082, max: 1.406, position: 'right' }),
        axisBase(afvenTicks, 0, 36, { gridIndex: 3, min: 212.8, max: 306.15, name: 'Afv\u00e9n Frequency [kHz]', nameGap: 135 }),
        axisBase(afvenTicks, 0, 36, { gridIndex: 4, min: 212.4, max: 306.5, name: 'Afv\u00e9n Frequency [kHz]', nameGap: 120 }),
      ],
      legend: [
        {
          data: ['n', 'Ip [kA]'],
          left: 2763,
          top: 230,
          orient: 'vertical',
          padding: [16, 12, 14, 13],
          itemWidth: 85,
          itemHeight: 8,
          itemGap: 14,
          icon: 'rect',
          backgroundColor: 'rgba(255,255,255,0.8)',
          borderColor: 'rgba(204,204,204,0.8)',
          borderWidth: 4,
          borderRadius: 8,
          selectedMode: false,
          formatter: (name: string) => (name === 'n' ? 'n  [10{sup|19} m{sup|3}]' : name),
          textStyle: {
            color: '#000',
            fontFamily: FONT,
            fontSize: 39,
            padding: [0, 0, 0, 26],
            rich: { sup: { fontFamily: FONT, fontSize: 28, padding: [0, 0, 16, 0], color: '#000' } },
          },
        },
        {
          data: ['mode_00 r=0.804', 'mode_01 r=0.960'],
          left: 1936,
          top: 976,
          orient: 'vertical',
          padding: [16, 14, 14, 36],
          itemWidth: 32,
          itemHeight: 32,
          itemGap: 18,
          icon: 'circle',
          backgroundColor: 'rgba(255,255,255,0.8)',
          borderColor: 'rgba(204,204,204,0.8)',
          borderWidth: 4,
          borderRadius: 8,
          selectedMode: false,
          textStyle: { color: '#000', fontFamily: FONT, fontSize: 39, padding: [0, 0, 0, 50] },
        },
      ],
      graphic: [
        // frame over the two image-like plots
        { type: 'rect', z: 50, shape: { x: 438, y: 210, width: 986, height: 574 }, style: { fill: 'none', stroke: '#000', lineWidth: 4 } },
        { type: 'rect', z: 50, shape: { x: 1487, y: 210, width: 28, height: 574 }, style: { fill: 'none', stroke: '#000', lineWidth: 4 } },
        // x label of the lower right plot
        mathText('1', 2423, 1635, `26px "${FONT}"`),
        mathRule(2403, 2446, 1652, 3),
        mathRule(2417, 2446, 1659, 2),
        mathText('\u221a', 2409, 1673, `28px "${FONT}"`),
        mathText('n', 2432, 1672, `italic 27px "${FONT}"`),
        mathText('[', 2492, 1649, `36px "${FONT}"`),
        mathText('1', 2573, 1635, `26px "${FONT}"`),
        mathRule(2501, 2649, 1652, 3),
        mathRule(2520, 2649, 1659, 2),
        mathText('\u221a', 2511, 1677, `38px "${FONT}"`),
        {
          type: 'text',
          x: 2527,
          y: 1683,
          style: {
            text: '10{sup|19} m{sup|\u22123}',
            font: `26px "${FONT}"`,
            fill: '#000',
            textVerticalAlign: 'middle',
            rich: { sup: { fontSize: 18, fontFamily: FONT, padding: [0, 0, 12, 0], fill: '#000' } },
          },
        },
        mathText(']', 2660, 1649, `36px "${FONT}"`),
      ],
      series: [
        // spectrogram
        {
          type: 'custom',
          xAxisIndex: 0,
          yAxisIndex: 0,
          data: specCells,
          silent: true,
          clip: true,
          progressive: 0,
          renderItem: (_: any, api: any) => {
            const p0 = api.coord([api.value(0), api.value(1) + DF]);
            const p1 = api.coord([api.value(0) + DT, api.value(1)]);
            const fill = oceanColor(api.value(2));
            return {
              type: 'rect',
              shape: { x: p0[0], y: p0[1], width: p1[0] - p0[0], height: p1[1] - p0[1] },
              style: { fill, stroke: fill, lineWidth: 1 },
            };
          },
        },
        plainLine(lineAt400Before, '#0a2a6a', 6, 0, 0),
        plainLine(lineAt400After, '#0a2a6a', 6, 0, 0),
        plainLine(lineDiagonal, '#06206a', 3, 0, 0),
        plainLine(lineAt90Before, '#0a4a50', 3, 0, 0),
        plainLine(lineAt90After, '#0a4a50', 3, 0, 0),
        plainLine(lineAt80Before, '#0a6a30', 2, 0, 0),
        plainLine(lineAt80After, '#0a6a30', 2, 0, 0),
        plainLine(lineAt15, '#2a86b0', 4, 0, 0),
        plainLine(mode00Contour, OLIVE, 7.3, 0, 0),
        plainLine(mode01Contour, ORANGE, 7.3, 0, 0),
        // colorbar
        {
          type: 'custom',
          xAxisIndex: 1,
          yAxisIndex: 1,
          data: colorbarCells,
          silent: true,
          renderItem: (_: any, api: any) => {
            const level = api.value(0);
            const p0 = api.coord([0, level + 0.05]);
            const p1 = api.coord([1, level]);
            const fill = oceanColor(level + 0.025);
            return {
              type: 'rect',
              shape: { x: p0[0], y: p0[1], width: p1[0] - p0[0], height: p1[1] - p0[1] },
              style: { fill, stroke: fill, lineWidth: 0.5 },
            };
          },
          encode: { y: 0 },
        },
        // time traces
        dots('mode_00 time', mode00ByTime, OLIVE_FILL, 24, 2, 3),
        dots('mode_01 time', mode01ByTime, ORANGE_FILL, 24, 2, 3),
        plainLine(nLine, '#000', 7.3, 2, 4, 'n'),
        envelope(nBandTimes, nBandUpper, nBandLower, '#000', 6),
        envelope(ipTimes, ipUpper, ipLower, '#f00', 6),
        plainLine(ipZigzag, '#f00', 7.3, 2, 4, 'Ip [kA]'),
        // current scatter
        dots('mode_00 ip', mode00ByIp, OLIVE_FILL, 23, 3, 5),
        dots('mode_01 ip', mode01ByIp, ORANGE_FILL, 23, 3, 5),
        // density scatter and fits
        dots('mode_00 r=0.804', mode00ByInvDensity, OLIVE_FILL, 30, 4, 6),
        dots('mode_01 r=0.960', mode01ByInvDensity, ORANGE_FILL, 30, 4, 6),
        plainLine(fitAll, '#000', 7.3, 4, 6),
        plainLine(fitMode00, '#000', 7.3, 4, 6),
      ],
    };

    chart.setOption(option);

    return () => {
      chart.dispose();
    };
  }, []);

  return <div ref={chartRef} style={{ position: 'absolute', left: 0, top: 0, width: 3500, height: 1750, background: '#fff' }} />;
};

export default App;
